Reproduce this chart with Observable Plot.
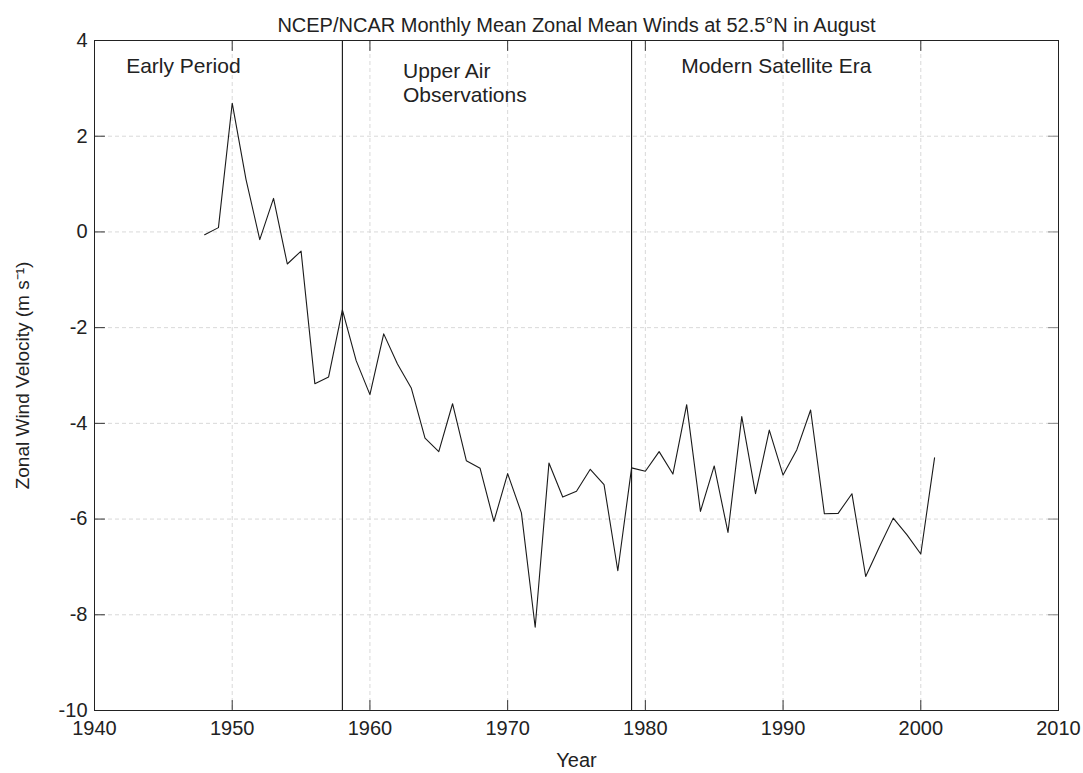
<!DOCTYPE html>
<html>
<head>
<meta charset="utf-8">
<script src="https://cdn.jsdelivr.net/npm/d3@7"></script>
<script src="https://cdn.jsdelivr.net/npm/@observablehq/plot@0.6"></script>
<style>
  html, body { margin: 0; padding: 0; background: #fff; }
  svg { display: block; }
</style>
</head>
<body>
<div id="chart"></div>
<script>
// ---- Data ----
const years = [1948, 1949, 1950, 1951, 1952, 1953, 1954, 1955, 1956, 1957,
  1958, 1959, 1960, 1961, 1962, 1963, 1964, 1965, 1966, 1967,
  1968, 1969, 1970, 1971, 1972, 1973, 1974, 1975, 1976, 1977,
  1978, 1979, 1980, 1981, 1982, 1983, 1984, 1985, 1986, 1987,
  1988, 1989, 1990, 1991, 1992, 1993, 1994, 1995, 1996, 1997,
  1998, 1999, 2000, 2001];
const windSpeed = [-0.06, 0.09, 2.69, 1.1, -0.16, 0.70, -0.67, -0.40, -3.17, -3.03,
  -1.63, -2.69, -3.40, -2.13, -2.76, -3.26, -4.31, -4.59, -3.59, -4.78,
  -4.94, -6.05, -5.05, -5.87, -8.26, -4.83, -5.54, -5.42, -4.96, -5.28,
  -7.08, -4.93, -5.00, -4.59, -5.06, -3.61, -5.84, -4.89, -6.28, -3.86,
  -5.47, -4.14, -5.08, -4.55, -3.72, -5.89, -5.88, -5.47, -7.20, -6.58,
  -5.98, -6.33, -6.73, -4.72];
const periodBoundaries = [1958, 1979];
const periodLabels = ["Early Period", "Upper Air\nObservations", "Modern Satellite Era"];
const periodLabelYears = [1942.3, 1962.4, 1982.6];
const periodLabelValues = [3.47, 3.12, 3.47];
const xTicks = [1940, 1950, 1960, 1970, 1980, 1990, 2000, 2010];
const yTicks = [4, 2, 0, -2, -4, -6, -8, -10];
const title = "NCEP/NCAR Monthly Mean Zonal Mean Winds at 52.5°N in August";
const xLabel = "Year";
const yLabel = "Zonal Wind Velocity (m s⁻¹)";

const series = years.map((y, i) => ({year: y, value: windSpeed[i]}));
const annotations = periodLabels.map((t, i) => ({text: t, year: periodLabelYears[i], value: periodLabelValues[i]}));
const innerX = xTicks.slice(1, -1);
const innerY = yTicks.slice(1, -1);

const tickShape = {draw(ctx, l) { ctx.moveTo(0, 0); ctx.lineTo(0, -l); }};
const font = "'Liberation Sans', Arial, Helvetica, sans-serif";

const chart = Plot.plot({
  width: 1083,
  height: 773,
  marginLeft: 94,
  marginRight: 25,
  marginTop: 40,
  marginBottom: 63,
  style: {fontFamily: font, background: "#fff", color: "#222"},
  x: {domain: [1940, 2010], ticks: xTicks},
  y: {domain: [-10, 4], ticks: yTicks},
  marks: [
    Plot.gridX(innerX, {stroke: "#d9d9d9", strokeOpacity: 1, strokeDasharray: "4,3"}),
    Plot.gridY(innerY, {stroke: "#d9d9d9", strokeOpacity: 1, strokeDasharray: "4,3"}),
    // inward ticks on all four sides
    Plot.vector(xTicks, {x: d => d, frameAnchor: "bottom", length: 10, rotate: 0, anchor: "start", shape: tickShape, stroke: "#333", strokeWidth: 1}),
    Plot.vector(xTicks, {x: d => d, frameAnchor: "top", length: 10, rotate: 180, anchor: "start", shape: tickShape, stroke: "#333", strokeWidth: 1}),
    Plot.vector(yTicks, {y: d => d, frameAnchor: "left", length: 10, rotate: 90, anchor: "start", shape: tickShape, stroke: "#333", strokeWidth: 1}),
    Plot.vector(yTicks, {y: d => d, frameAnchor: "right", length: 10, rotate: -90, anchor: "start", shape: tickShape, stroke: "#888", strokeWidth: 1}),
    Plot.axisX(xTicks, {tickSize: 0, tickPadding: 10, fontSize: 20, label: null, tickFormat: d => String(d), fill: "#222"}),
    Plot.axisY(yTicks, {tickSize: 0, tickPadding: 7, fontSize: 20, label: null, tickFormat: d => String(d), fill: "#222"}),
    Plot.ruleX(periodBoundaries, {stroke: "#111", strokeWidth: 1.1}),
    Plot.line(series, {x: "year", y: "value", stroke: "#1a1a1a", strokeWidth: 1.1}),
    Plot.text(annotations, {x: "year", y: "value", text: "text", textAnchor: "start", fontSize: 21, lineHeight: 1.1, fill: "#222"}),
    Plot.frame({stroke: "#222", strokeWidth: 1}),
    Plot.text([title], {frameAnchor: "top", dy: -23, fontSize: 20, fill: "#222"}),
    Plot.text([xLabel], {frameAnchor: "bottom", dy: 56, fontSize: 20, fill: "#222"}),
    Plot.text([yLabel], {frameAnchor: "left", dx: -72, rotate: -90, textAnchor: "middle", fontSize: 19, fill: "#222"})
  ]
});
document.getElementById("chart").appendChild(chart);
</script>
</body>
</html>
